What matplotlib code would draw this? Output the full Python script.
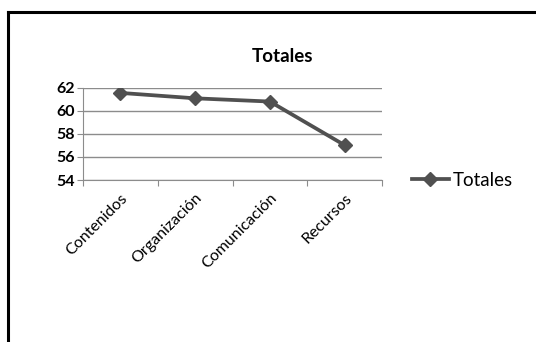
import matplotlib.pyplot as plt
from matplotlib.lines import Line2D

categorias = ["Contenidos", "Organización", "Comunicación", "Recursos"]
totales = [61.55, 61.08, 60.8, 57.02]

plt.rcParams['font.family'] = ['Lato', 'DejaVu Sans']

fig = plt.figure(figsize=(5.36, 3.42), dpi=100)
ax = fig.add_axes([83 / 536, 1 - 180 / 342, (382 - 83) / 536, (180 - 87.7) / 342])

x = list(range(len(categorias)))
line, = ax.plot(x, totales, color="#505050", lw=2.7, marker="D", ms=7.5,
                mfc="#505050", mec="#505050", label="Totales", zorder=3)

ax.set_xlim(-0.5, len(categorias) - 0.5)
ax.set_ylim(54, 62)
ax.set_yticks([54, 56, 58, 60, 62])
ax.yaxis.grid(True, color="#8c8c8c", lw=1)
ax.set_axisbelow(True)

# categories sit between tick marks, labels at centers
ax.set_xticks([i - 0.5 for i in range(len(categorias) + 1)])
ax.set_xticklabels([])
ax.set_xticks(x, minor=True)
ax.set_xticklabels(categorias, minor=True, rotation=45, ha="right",
                   rotation_mode="anchor", fontsize=11.5)
ax.tick_params(axis="x", which="minor", length=0, pad=8)
ax.tick_params(axis="x", which="major", length=4, color="#8c8c8c", direction="out")
ax.tick_params(axis="y", length=4, color="#8c8c8c", labelsize=11.5, pad=2)
for lbl in ax.get_yticklabels():
    lbl.set_fontweight("bold")

for s in ["top", "right"]:
    ax.spines[s].set_visible(False)
ax.spines["left"].set_color("#8c8c8c")
ax.spines["bottom"].set_color("#8c8c8c")

fig.text(282 / 536, 1 - 56 / 342, "Totales", ha="center", va="center",
         fontsize=13.5, fontweight="bold")

fig.legend(handles=[line], loc="center left", bbox_to_anchor=(404 / 536, 1 - 180 / 342),
           frameon=False, fontsize=13.5, handlelength=2.0, handletextpad=0.2,
           borderaxespad=0)

# frame around the chart (top and left edges)
fig.add_artist(Line2D([8 / 536, 1], [1 - 12 / 342] * 2, color="black", lw=2.2,
                      transform=fig.transFigure))
fig.add_artist(Line2D([8 / 536] * 2, [0, 1 - 12 / 342], color="black", lw=2.2,
                      transform=fig.transFigure))

fig.savefig("out.png", dpi=100)
